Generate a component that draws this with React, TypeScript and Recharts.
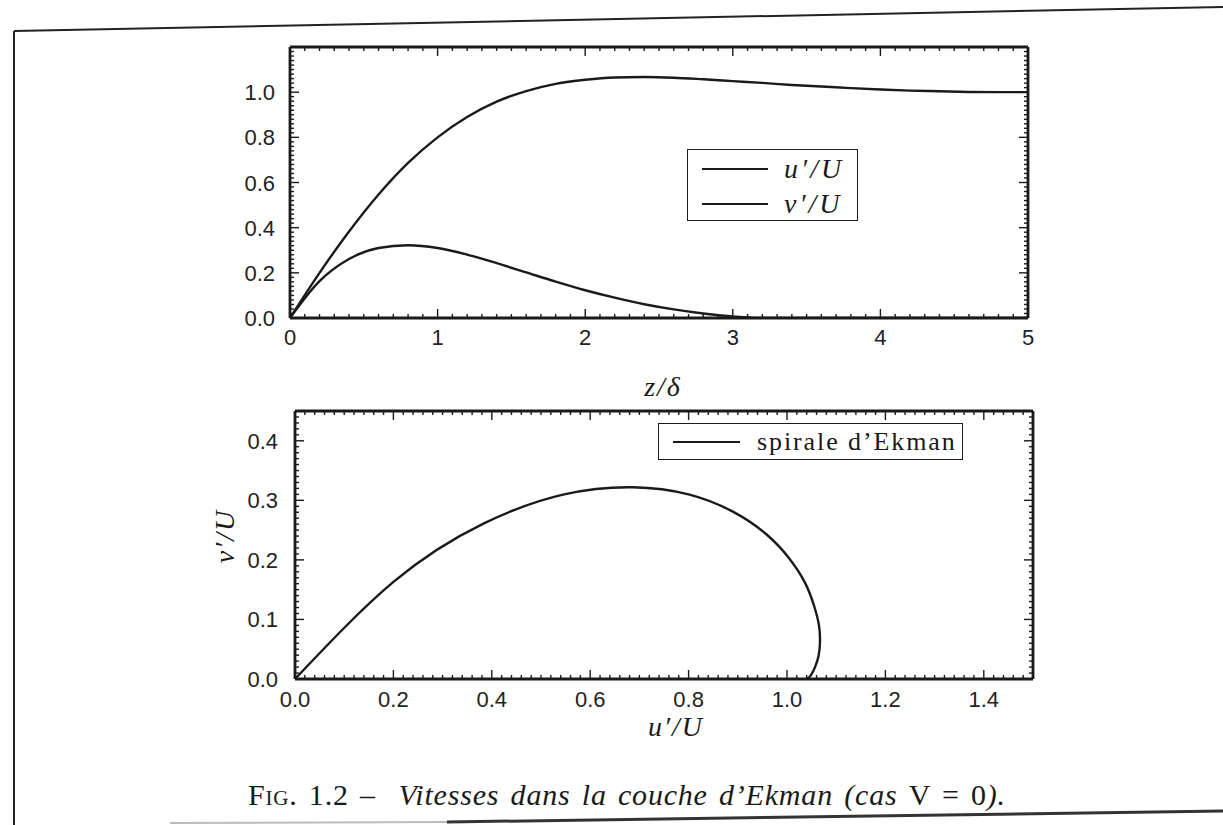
import React from 'react'
import { LineChart, Line, XAxis, YAxis, Legend } from 'recharts'

// stations in z/delta and the two velocity profiles
const zStations = [0, 0.2, 0.4, 0.6, 0.8, 1.0, 1.2, 1.4, 1.6, 1.8, 2.0, 2.2, 2.4, 2.6, 2.8, 3.0, 3.2, 3.4, 3.6, 3.8, 4.0, 4.2, 4.4, 4.6, 4.8, 5.0]
const uProfile = [0, 0.2, 0.383, 0.547, 0.687, 0.8, 0.89, 0.958, 1.005, 1.037, 1.055, 1.065, 1.067, 1.064, 1.057, 1.049, 1.041, 1.032, 1.025, 1.018, 1.012, 1.007, 1.004, 1.001, 1.0, 1.0]
const vProfile = [0, 0.163, 0.261, 0.31, 0.322, 0.31, 0.281, 0.243, 0.202, 0.161, 0.123, 0.09, 0.061, 0.038, 0.02, 0.007, 0, 0, 0, 0, 0, 0, 0, 0, 0, 0]

// labelled ticks
const profileXLabels = [0, 1, 2, 3, 4, 5]
const profileYLabels = [0, 0.2, 0.4, 0.6, 0.8, 1.0]
const spiralXLabels = [0, 0.2, 0.4, 0.6, 0.8, 1.0, 1.2, 1.4]
const spiralYLabels = [0, 0.1, 0.2, 0.3, 0.4]

const profileData = zStations.map((z, i) => ({ z, u: uProfile[i], v: vProfile[i] }))
// hodograph: keep the part of the profile where v' is still above the axis
const spiralData = zStations.filter(z => z <= 3.2).map((_, i) => ({ u: uProfile[i], v: vProfile[i] }))

const INK = '#1a1a1a'
const SANS = '"Liberation Sans", Arial, sans-serif'
const SERIF = '"Liberation Serif", "Times New Roman", serif'

function tickRange(max: number, step: number) {
  const n = Math.round(max / step)
  const out: number[] = []
  for (let i = 0; i <= n; i++) out.push(+(i * step).toFixed(4))
  return out
}

// draws inward tick marks, labels only on the bottom and left sides
function makeTick(side: string, majors: number[], fmt: (v: number) => string, gap: number) {
  return (props: any) => {
    const { x, y, payload } = props
    const val = payload.value
    const isMajor = majors.some(m => Math.abs(m - val) < 1e-6)
    const len = isMajor ? 9 : 4
    let mark
    if (side === 'bottom') mark = <line x1={x} y1={y} x2={x} y2={y - len} />
    else if (side === 'top') mark = <line x1={x} y1={y} x2={x} y2={y + len} />
    else if (side === 'left') mark = <line x1={x} y1={y} x2={x + len} y2={y} />
    else mark = <line x1={x} y1={y} x2={x - len} y2={y} />
    let label = null
    if (isMajor && side === 'bottom') {
      label = <text x={x} y={y + gap} textAnchor="middle" fontFamily={SANS} fontSize={22} fill="#222" stroke="none">{fmt(val)}</text>
    }
    if (isMajor && side === 'left') {
      label = <text x={x - gap} y={y + 8} textAnchor="end" fontFamily={SANS} fontSize={22} fill="#222" stroke="none">{fmt(val)}</text>
    }
    return (
      <g stroke={INK} strokeWidth={1.4}>
        {mark}
        {label}
      </g>
    )
  }
}

const axisLine = { stroke: INK, strokeWidth: 2.8 }

const intLabel = (v: number) => String(v)
const oneDec = (v: number) => v.toFixed(1)

function ProfileLegend(props: any) {
  const { payload } = props
  return (
    <div style={{ width: 171, height: 72, border: `1.3px solid ${INK}`, boxSizing: 'border-box', background: '#fff', paddingTop: 1 }}>
      {payload.map((entry: any) => (
        <div key={entry.value} style={{ display: 'flex', alignItems: 'center', height: 35 }}>
          <svg width={96} height={10} style={{ flex: 'none' }}>
            <line x1={14} y1={5} x2={80} y2={5} stroke={INK} strokeWidth={2} />
          </svg>
          <span style={{ fontFamily: SERIF, fontStyle: 'italic', fontSize: 28, letterSpacing: 3, color: INK, lineHeight: '35px' }}>{entry.value}</span>
        </div>
      ))}
    </div>
  )
}

function SpiralLegend(props: any) {
  const { payload } = props
  return (
    <div style={{ width: 305, height: 37, border: `1.3px solid ${INK}`, boxSizing: 'border-box', background: '#fff', display: 'flex', alignItems: 'center' }}>
      <svg width={98} height={10} style={{ flex: 'none' }}>
        <line x1={14} y1={5} x2={81} y2={5} stroke={INK} strokeWidth={2} />
      </svg>
      <span style={{ fontFamily: SERIF, fontSize: 26, letterSpacing: 1.9, color: INK, lineHeight: '35px', whiteSpace: 'nowrap' }}>{payload[0]?.value}</span>
    </div>
  )
}

export default function App() {
  return (
    <div style={{ position: 'absolute', left: 0, top: 0, width: 1223, height: 825, background: '#fff', overflow: 'hidden' }}>
      {/* page frame from the scan */}
      <svg width={1223} height={825} style={{ position: 'absolute', left: 0, top: 0 }}>
        <line x1={14} y1={31} x2={1223} y2={7} stroke="#222" strokeWidth={2} />
        <line x1={14} y1={31} x2={14} y2={825} stroke="#222" strokeWidth={2} />
        <line x1={170} y1={823} x2={447} y2={822} stroke="#bbb" strokeWidth={2} />
        <line x1={447} y1={822} x2={1223} y2={811} stroke="#333" strokeWidth={3} />
      </svg>

      {/* upper panel: u'/U and v'/U against z/delta */}
      <div style={{ position: 'absolute', left: 0, top: 0 }}>
        <LineChart width={1223} height={410} data={profileData} margin={{ top: 46, right: 194, bottom: 91, left: 289 }}>
          <XAxis xAxisId="b" dataKey="z" type="number" domain={[0, 5]} allowDataOverflow orientation="bottom" height={1}
            ticks={tickRange(5, 0.1)} interval={0} tickSize={0} tickMargin={0} tickLine={false} axisLine={axisLine}
            tick={makeTick('bottom', profileXLabels, intLabel, 27)}
            label={{ content: (p: any) => {
              const vb = p.viewBox || { x: 290, y: 318, width: 738, height: 0 }
              return <text x={vb.x + vb.width / 2 + 4} y={vb.y + 78} textAnchor="middle" fontFamily={SERIF} fontStyle="italic" fontSize={28} letterSpacing={2} fill={INK}>z/δ</text>
            } }} />
          <XAxis xAxisId="t" dataKey="z" type="number" domain={[0, 5]} allowDataOverflow orientation="top" height={1}
            ticks={tickRange(5, 0.1)} interval={0} tickSize={0} tickMargin={0} tickLine={false} axisLine={axisLine}
            tick={makeTick('top', profileXLabels, intLabel, 0)} />
          <YAxis yAxisId="l" type="number" domain={[0, 1.2]} allowDataOverflow orientation="left" width={1}
            ticks={tickRange(1.2, 0.02)} interval={0} tickSize={0} tickMargin={0} tickLine={false} axisLine={axisLine}
            tick={makeTick('left', profileYLabels, oneDec, 15)} />
          <YAxis yAxisId="r" type="number" domain={[0, 1.2]} allowDataOverflow orientation="right" width={1}
            ticks={tickRange(1.2, 0.02)} interval={0} tickSize={0} tickMargin={0} tickLine={false} axisLine={axisLine}
            tick={makeTick('right', profileYLabels, oneDec, 0)} />
          <Legend layout="vertical" verticalAlign="middle" align="center" content={ProfileLegend}
            wrapperStyle={{ left: 687, top: 149, width: 171, height: 72 }} />
          <Line xAxisId="b" yAxisId="l" dataKey="u" name="u′/U" type="monotone" stroke={INK} strokeWidth={2.4} dot={false} isAnimationActive={false} />
          <Line xAxisId="b" yAxisId="l" dataKey="v" name="v′/U" type="monotone" stroke={INK} strokeWidth={2.4} dot={false} isAnimationActive={false} />
        </LineChart>
      </div>

      {/* lower panel: Ekman spiral, v'/U against u'/U */}
      <div style={{ position: 'absolute', left: 0, top: 390 }}>
        <LineChart width={1223} height={380} data={spiralData} margin={{ top: 20, right: 189, bottom: 90, left: 294 }}>
          <XAxis xAxisId="b" dataKey="u" type="number" domain={[0, 1.5]} allowDataOverflow orientation="bottom" height={1}
            ticks={tickRange(1.5, 0.02)} interval={0} tickSize={0} tickMargin={0} tickLine={false} axisLine={axisLine}
            tick={makeTick('bottom', spiralXLabels, oneDec, 28)}
            label={{ content: (p: any) => {
              const vb = p.viewBox || { x: 295, y: 289, width: 738, height: 0 }
              return <text x={vb.x + vb.width / 2 + 12} y={vb.y + 57} textAnchor="middle" fontFamily={SERIF} fontStyle="italic" fontSize={28} letterSpacing={2} fill={INK}>u′/U</text>
            } }} />
          <XAxis xAxisId="t" dataKey="u" type="number" domain={[0, 1.5]} allowDataOverflow orientation="top" height={1}
            ticks={tickRange(1.5, 0.02)} interval={0} tickSize={0} tickMargin={0} tickLine={false} axisLine={axisLine}
            tick={makeTick('top', spiralXLabels, oneDec, 0)} />
          <YAxis yAxisId="l" type="number" domain={[0, 0.45]} allowDataOverflow orientation="left" width={1}
            ticks={tickRange(0.45, 0.01)} interval={0} tickSize={0} tickMargin={0} tickLine={false} axisLine={axisLine}
            tick={makeTick('left', spiralYLabels, oneDec, 17)}
            label={{ content: (p: any) => {
              const vb = p.viewBox || { x: 295, y: 21, width: 0, height: 268 }
              const cy = vb.y + vb.height / 2 - 9
              return <text x={234} y={cy} transform={`rotate(-90, 234, ${cy})`} textAnchor="middle" fontFamily={SERIF} fontStyle="italic" fontSize={28} letterSpacing={2} fill={INK}>v′/U</text>
            } }} />
          <YAxis yAxisId="r" type="number" domain={[0, 0.45]} allowDataOverflow orientation="right" width={1}
            ticks={tickRange(0.45, 0.01)} interval={0} tickSize={0} tickMargin={0} tickLine={false} axisLine={axisLine}
            tick={makeTick('right', spiralYLabels, oneDec, 0)} />
          <Legend layout="vertical" verticalAlign="middle" align="center" content={SpiralLegend}
            wrapperStyle={{ left: 658, top: 33, width: 305, height: 37 }} />
          <Line xAxisId="b" yAxisId="l" dataKey="v" name="spirale d’Ekman" type="natural" stroke={INK} strokeWidth={2.4} dot={false} isAnimationActive={false} />
        </LineChart>
      </div>

      {/* caption */}
      <div style={{ position: 'absolute', left: 248, top: 780, fontFamily: SERIF, fontSize: 30, lineHeight: '30px', letterSpacing: 0.8, wordSpacing: 3, color: INK, whiteSpace: 'nowrap' }}>
        <span style={{ fontVariant: 'small-caps' }}>Fig.</span> 1.2 –&nbsp;&nbsp;
        <span style={{ fontStyle: 'italic' }}>Vitesses dans la couche d’Ekman (cas </span>V = 0<span style={{ fontStyle: 'italic' }}>).</span>
      </div>
    </div>
  )
}
